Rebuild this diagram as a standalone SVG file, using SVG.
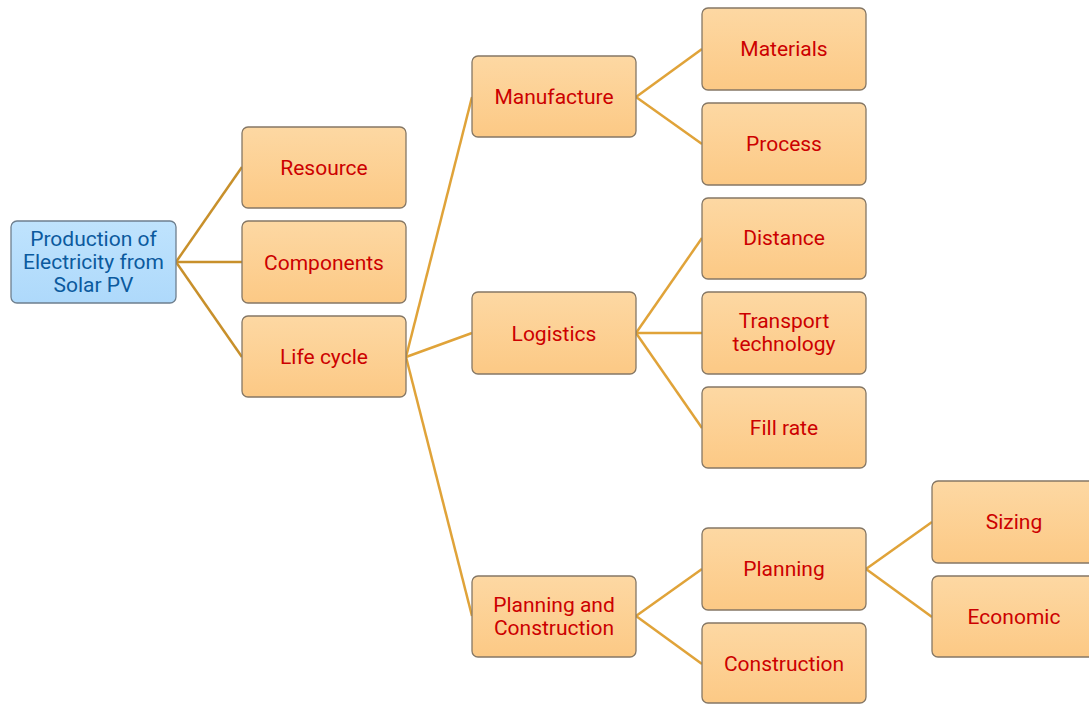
<svg xmlns="http://www.w3.org/2000/svg" width="1089" height="704" viewBox="0 0 1089 704">
<defs>
<linearGradient id="og" x1="0" y1="0" x2="0" y2="1">
<stop offset="0" stop-color="#fdd8a3"/>
<stop offset="1" stop-color="#fcc985"/>
</linearGradient>
<linearGradient id="bg" x1="0" y1="0" x2="0" y2="1">
<stop offset="0" stop-color="#bfe3fd"/>
<stop offset="1" stop-color="#aed9fb"/>
</linearGradient>
<style>
.n rect{fill:url(#og);stroke:#857765;stroke-width:1.3}
.r rect{fill:url(#bg);stroke:#6e7f8e;stroke-width:1.3}
text{font-family:Roboto,"Liberation Sans",sans-serif;font-size:21px;text-anchor:middle;fill:#cc0000}
.r text{fill:#0b5a9e}
.c line{stroke:#e0a339;stroke-width:2.5}
.c .d{stroke:#c8902b}
</style>
</defs>
<rect width="1089" height="704" fill="#fff"/>
<g class="c">
<line class="d" x1="176" y1="262" x2="242" y2="167"/>
<line class="d" x1="176" y1="262" x2="242" y2="262"/>
<line class="d" x1="176" y1="262" x2="242" y2="357"/>
<line x1="406" y1="357" x2="472" y2="97"/>
<line x1="406" y1="357" x2="472" y2="333"/>
<line x1="406" y1="357" x2="472" y2="616"/>
<line x1="636" y1="97" x2="702" y2="49"/>
<line x1="636" y1="97" x2="702" y2="144"/>
<line x1="636" y1="333" x2="702" y2="238"/>
<line x1="636" y1="333" x2="702" y2="333"/>
<line x1="636" y1="333" x2="702" y2="428"/>
<line x1="636" y1="616" x2="702" y2="569"/>
<line x1="636" y1="616" x2="702" y2="664"/>
<line x1="866" y1="569" x2="932" y2="522"/>
<line x1="866" y1="569" x2="932" y2="617"/>
</g>
<g id="root" class="r"><rect x="11" y="221" width="165" height="82" rx="6"/><text x="93.5" y="246">Production of</text><text x="93.5" y="269">Electricity from</text><text x="93.5" y="292">Solar PV</text></g>
<g id="resource" class="n"><rect x="242" y="127" width="164" height="81" rx="6"/><text x="324" y="174.5">Resource</text></g>
<g id="components" class="n"><rect x="242" y="221" width="164" height="82" rx="6"/><text x="324" y="269.5">Components</text></g>
<g id="lifecycle" class="n"><rect x="242" y="316" width="164" height="81" rx="6"/><text x="324" y="364">Life cycle</text></g>
<g id="manufacture" class="n"><rect x="472" y="56" width="164" height="81" rx="6"/><text x="554" y="104">Manufacture</text></g>
<g id="logistics" class="n"><rect x="472" y="292" width="164" height="82" rx="6"/><text x="554" y="340.5">Logistics</text></g>
<g id="planconst" class="n"><rect x="472" y="576" width="164" height="81" rx="6"/><text x="554" y="612">Planning and</text><text x="554" y="635">Construction</text></g>
<g id="materials" class="n"><rect x="702" y="8" width="164" height="82" rx="6"/><text x="784" y="56">Materials</text></g>
<g id="process" class="n"><rect x="702" y="103" width="164" height="82" rx="6"/><text x="784" y="151">Process</text></g>
<g id="distance" class="n"><rect x="702" y="198" width="164" height="81" rx="6"/><text x="784" y="245">Distance</text></g>
<g id="transport" class="n"><rect x="702" y="292" width="164" height="82" rx="6"/><text x="784" y="328">Transport</text><text x="784" y="351">technology</text></g>
<g id="fillrate" class="n"><rect x="702" y="387" width="164" height="81" rx="6"/><text x="784" y="435">Fill rate</text></g>
<g id="planning" class="n"><rect x="702" y="528" width="164" height="82" rx="6"/><text x="784" y="576">Planning</text></g>
<g id="construction" class="n"><rect x="702" y="623" width="164" height="80" rx="6"/><text x="784" y="671">Construction</text></g>
<g id="sizing" class="n"><rect x="932" y="481" width="164" height="82" rx="6"/><text x="1014" y="529">Sizing</text></g>
<g id="economic" class="n"><rect x="932" y="576" width="164" height="81" rx="6"/><text x="1014" y="624">Economic</text></g>
</svg>
